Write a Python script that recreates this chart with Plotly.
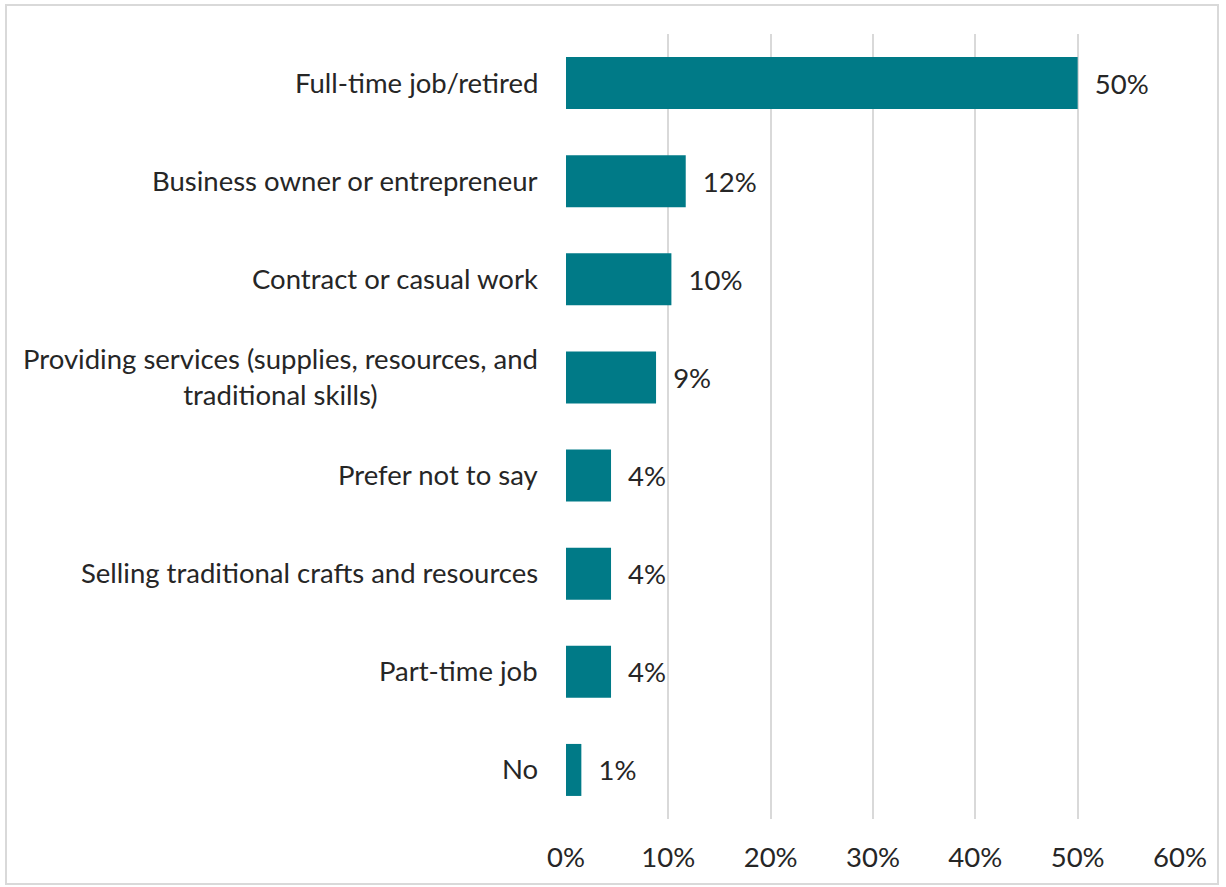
import plotly.graph_objects as go

categories = [
    "Full-time job/retired",
    "Business owner or entrepreneur",
    "Contract or casual work",
    "Providing services (supplies, resources, and<br>traditional skills)",
    "Prefer not to say",
    "Selling traditional crafts and resources",
    "Part-time job",
    "No",
]
values = [50.0, 11.7, 10.3, 8.8, 4.4, 4.4, 4.4, 1.5]
labels = ["50%", "12%", "10%", "9%", "4%", "4%", "4%", "1%"]
x_ticks = [0, 10, 20, 30, 40, 50, 60]
x_tick_text = ["0%", "10%", "20%", "30%", "40%", "50%", "60%"]

W, H = 1226, 887
L, R, T, B = 566, 46, 34, 68
pw, ph = W - L - R, H - T - B

font = "Lato, sans-serif"
fs = 27.5
col = "#262626"

fig = go.Figure(go.Bar(
    y=categories[::-1], x=values[::-1], orientation="h",
    marker=dict(color="#007A87", line=dict(width=0)),
    text=["  " + t for t in labels[::-1]], textposition="outside",
    textfont=dict(size=fs, color=col, family=font),
    cliponaxis=False,
))

def px(x):
    return (x - L) / pw

def py(y):
    return 1 - (y - T) / ph

fig.add_shape(type="rect", xref="paper", yref="paper",
              x0=px(6), x1=px(1218), y0=py(5), y1=py(884),
              line=dict(color="#D9D9D9", width=2), fillcolor="rgba(0,0,0,0)", layer="below")

# y tick labels as centered multi-line-capable annotations
tick_text = ["" for _ in categories[::-1]]
for c in categories:
    fig.add_annotation(x=0, xref="paper", y=c, yref="y", text=c, showarrow=False,
                       xanchor="right", align="center", xshift=-26, yshift=1,
                       font=dict(size=fs, color=col, family=font))

fig.update_layout(
    width=W, height=H,
    margin=dict(l=L, r=R, t=T, b=B),
    paper_bgcolor="white", plot_bgcolor="white",
    bargap=0.47,
    showlegend=False,
    font=dict(family=font, size=fs, color=col),
    xaxis=dict(range=[0, 60], tickvals=x_ticks, ticktext=x_tick_text,
               showgrid=True, gridcolor="#D9D9D9", gridwidth=2,
               zeroline=False, showline=False, ticks="", ticklabelstandoff=19,
               tickfont=dict(size=fs, color=col)),
    yaxis=dict(showgrid=False, zeroline=False, showline=False, ticks="",
               tickvals=categories[::-1], ticktext=tick_text,
               tickfont=dict(size=fs, color=col)),
)

fig.write_html("out.html")
